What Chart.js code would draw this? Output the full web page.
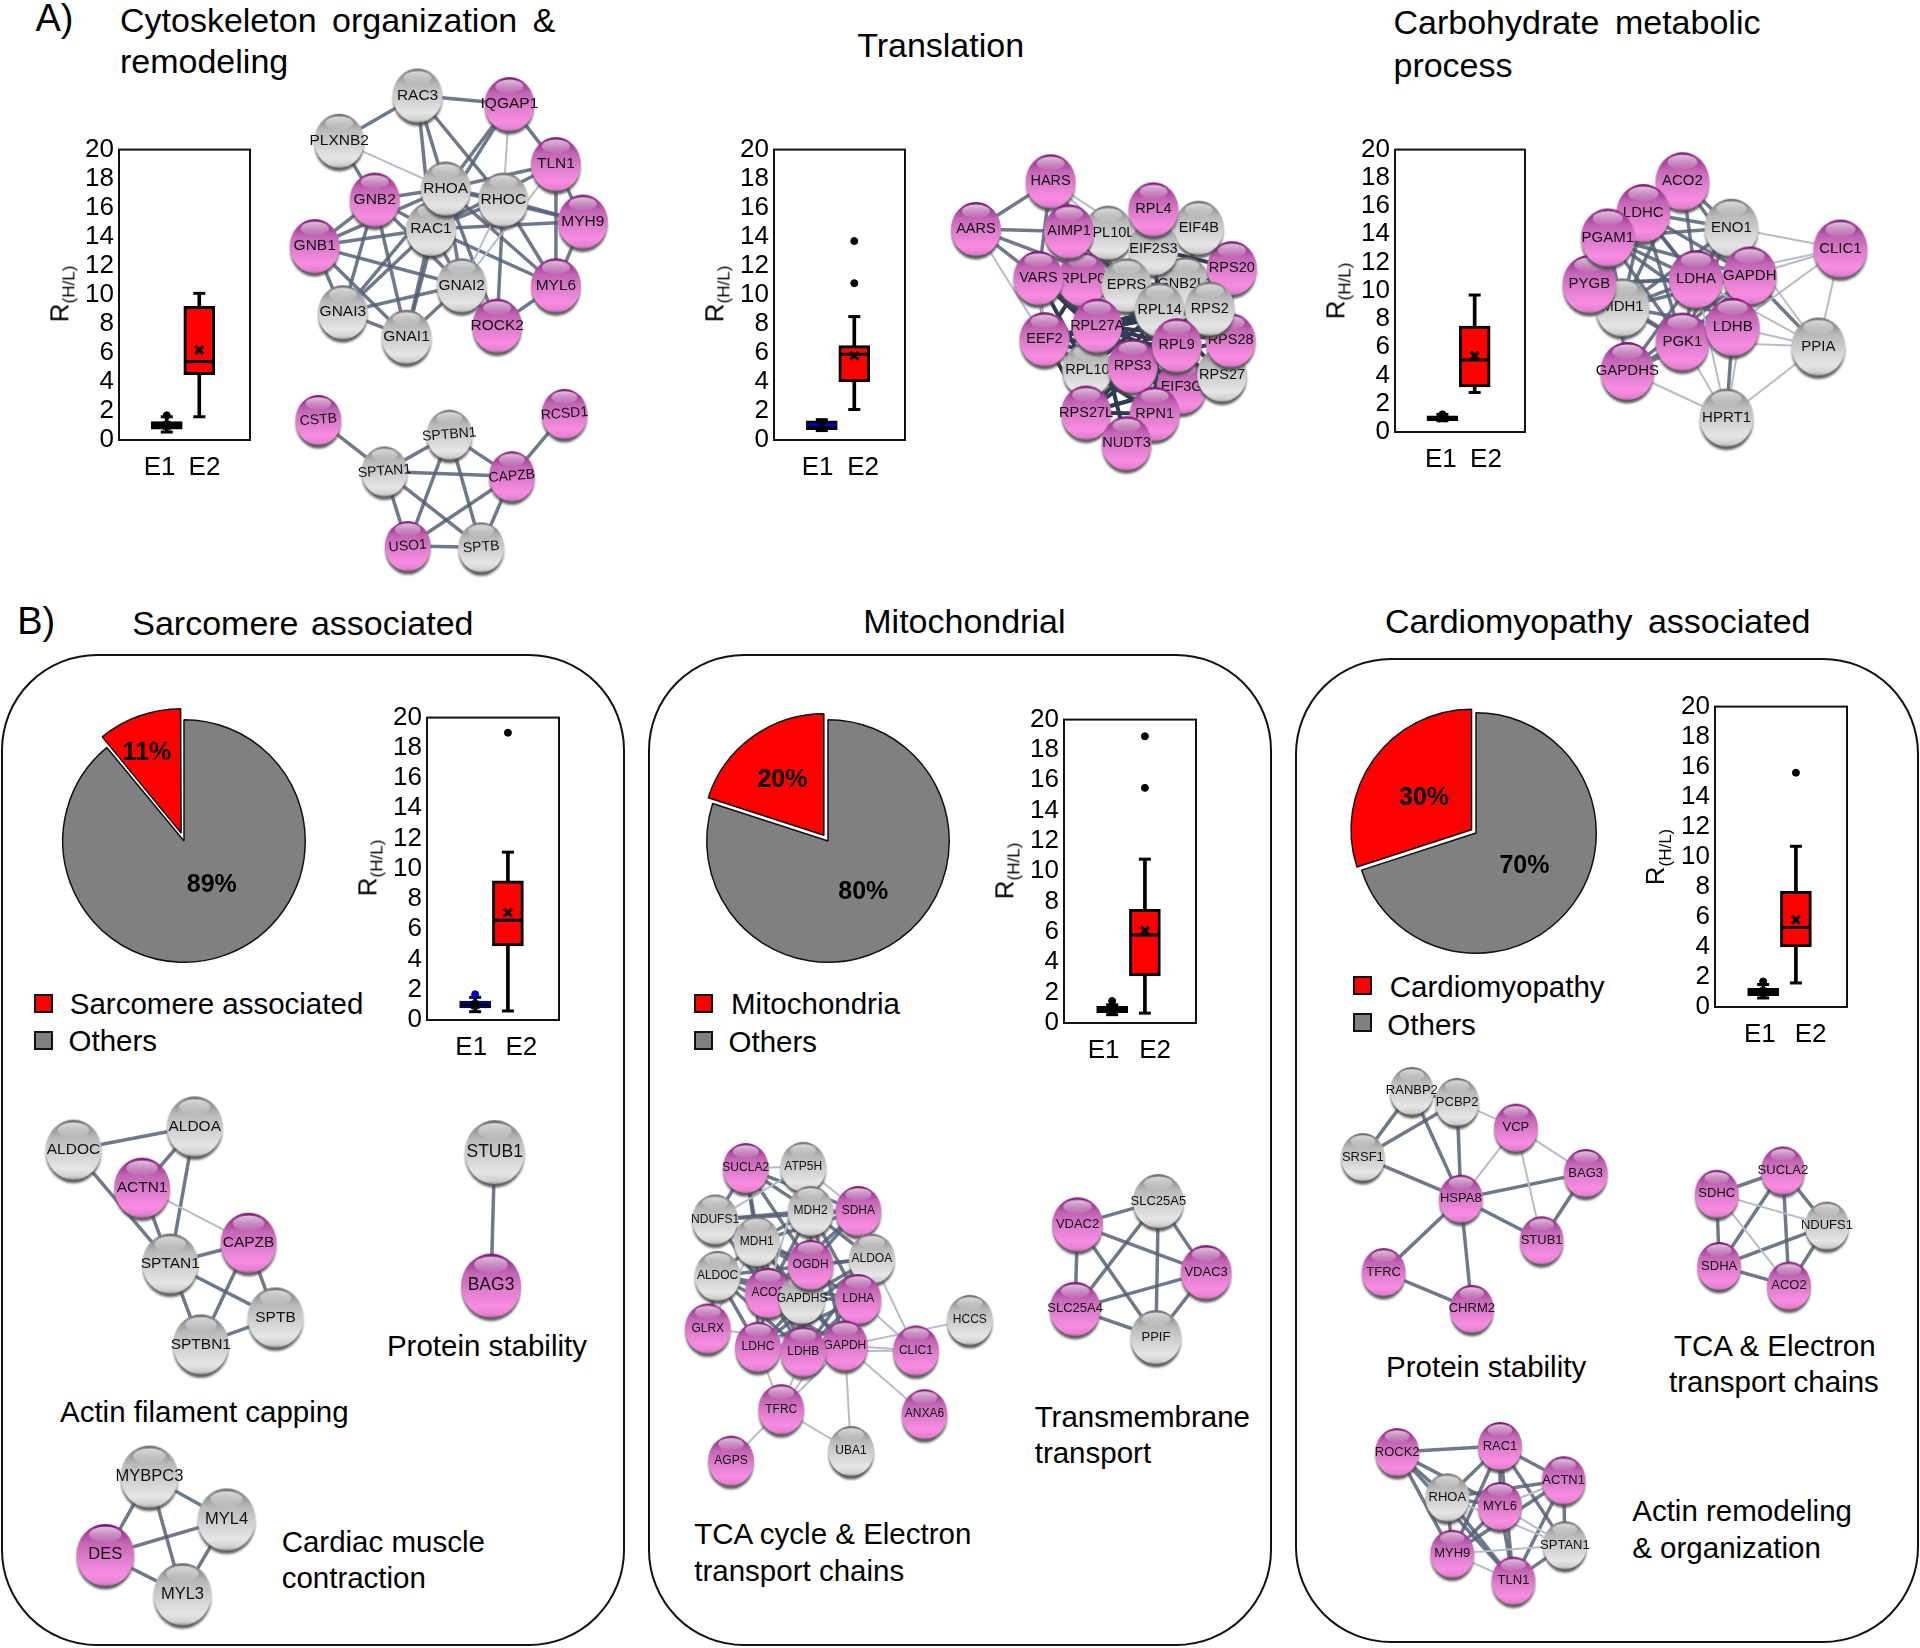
<!DOCTYPE html>
<html>
<head>
<meta charset="utf-8">
<script src="https://cdn.jsdelivr.net/npm/chart.js@4/dist/chart.umd.min.js"></script>
<style>
html, body { margin: 0; background: #fff; }
#page { position: relative; width: 1920px; height: 1648px; overflow: hidden; font-family: "Liberation Sans", Arial, sans-serif; color: #000; }
#page canvas { position: absolute; }
.txt { position: absolute; white-space: pre; line-height: 1; transform: translateY(-50%); }
.panel { position: absolute; border: 2.5px solid #111; box-sizing: border-box; background: #fff; }
.sq { position: absolute; box-sizing: border-box; border: 2.5px solid #111; }
.rlabel { position: absolute; white-space: nowrap; font-size: 26px; line-height: 1; transform: translate(-50%, -50%) rotate(-90deg); }
.rlabel sub { font-size: 17px; }
</style>
</head>
<body>
<div id="page"></div>
<script>
// all positions below are in the 1568 wide picture, S converts to page pixels
const S = 1920 / 1568;
const page = document.getElementById('page');

// ---------- box plots: [low, q1, median, q3, high, mean] for E1 and E2 ----------
const boxCategories = ['E1', 'E2'];
const boxX = [0, 1];
const cytoStats = [[0.55, 0.75, 1, 1.27, 1.6, 1], [1.6, 4.5, 5.4, 9.2, 10.1, 6.2]];
const cytoOutliers = [[1.7], []];
const translationStats = [[0.65, 0.72, 1.05, 1.32, 1.4, 1], [2.1, 4, 5.9, 6.5, 8.5, 5.8]];
const translationOutliers = [[], [10.8, 13.7]];
const carbStats = [[0.8, 0.8, 1, 1.15, 1.25, 1], [2.8, 3.2, 5.1, 7.5, 9.7, 5.4]];
const carbOutliers = [[1.25], []];
const sarcStats = [[0.55, 0.8, 1, 1.25, 1.5, 1], [0.6, 4.9, 6.6, 9.2, 11.1, 7.1]];
const sarcOutliers = [[1.7], [19]];
const mitoStats = [[0.55, 0.68, 0.9, 1.1, 1.2, 0.9], [0.65, 3.1, 5.8, 7.5, 10.8, 6.1]];
const mitoOutliers = [[1.45], [15.5, 18.9]];
const cardioStats = [[0.6, 0.75, 1, 1.25, 1.5, 1], [1.6, 4, 5.3, 7.7, 10.7, 5.8]];
const cardioOutliers = [[1.7], [15.6]];

// ---------- pies ----------
const pieValues1 = [89, 11];
const pieValues2 = [80, 20];
const pieValues3 = [70, 30];

// ---------- networks: [name, x, y, pink] listed bottom to top ----------
const cytoNodes = [
  ['PLXNB2',277,115,0],['RAC3',341,78,0],['IQGAP1',416,85,1],['TLN1',454,134,1],['MYH9',476,181,1],
  ['GNB2',306,163,1],['RAC1',352,187,0],['RHOC',411,163,0],['RHOA',364,154,0],['GNB1',257,201,1],
  ['GNAI2',377,233,0],['GNAI3',280,255,0],['GNAI1',332,275,0],['MYL6',454,233,1],['ROCK2',406,266,1]
];
const cytoLinks = ['RAC3-IQGAP1','RAC3-PLXNB2','RAC3-RHOA','RAC3-RAC1','RAC3-RHOC','IQGAP1-RHOA','IQGAP1-RAC1','IQGAP1-TLN1','PLXNB2-GNB2',
  'TLN1-RHOA','TLN1-RAC1','TLN1-MYH9','TLN1-MYL6','MYH9-RHOA','MYH9-RAC1','MYH9-MYL6','MYH9-RHOC','MYL6-RHOA','MYL6-RAC1','MYL6-ROCK2','MYL6-RHOC',
  'ROCK2-RHOA','ROCK2-RHOC','GNB2-RHOA','GNB2-RAC1','GNB2-GNB1','GNB2-GNAI1','GNB2-GNAI2','GNB2-GNAI3','GNB1-RHOA','GNB1-RAC1','GNB1-GNAI1','GNB1-GNAI2','GNB1-GNAI3',
  'GNAI3-GNAI1','GNAI3-GNAI2','GNAI3-RAC1','GNAI3-RHOA','GNAI1-GNAI2','GNAI1-RAC1','GNAI1-RHOA','GNAI2-RAC1','GNAI2-RHOA','RHOA-RHOC','RHOA-RAC1','RAC1-RHOC','ROCK2-GNAI2'];
const cytoWeak = ['PLXNB2-RHOA','IQGAP1-RHOC','GNAI2-RHOC','GNAI2-TLN1'];

const cyto2Nodes = [['CSTB',260,343,1],['RCSD1',461,338,1],['SPTBN1',367,355,0],['SPTAN1',314,385,0],['CAPZB',418,389,1],['USO1',333,446,1],['SPTB',393,447,0]];
const cyto2Links = ['CSTB-SPTAN1','RCSD1-CAPZB','SPTBN1-SPTAN1','SPTBN1-CAPZB','SPTAN1-CAPZB','SPTBN1-USO1','SPTBN1-SPTB','SPTAN1-USO1','SPTAN1-SPTB','CAPZB-USO1','CAPZB-SPTB','USO1-SPTB'];

const transNodes = [
  ['GNB2L1',968,232,0],['RPS20',1006,219,1],['EIF4B',979,186,0],['RPL10L',905,190,0],['RPLP0',884,228,1],['EIF2S3',942,203,0],['EPRS',920,233,0],['RPL4',942,171,1],
  ['HARS',858,148,1],['AARS',797,187,1],['AIMP1',873,189,1],['VARS',848,227,1],['RPL10',888,302,0],['EEF2',853,277,1],['EIF3G',965,316,1],['RPS27',998,306,0],['RPS28',1005,278,1],
  ['RPS27L',887,337,1],['RPL14',947,253,0],['RPS2',988,252,0],['RPL27A',896,266,1],['RPS3',925,299,1],['RPL9',961,282,1],['RPN1',943,338,1],['NUDT3',920,362,1]
];
const transLinks = ['HARS-AARS','AARS-AIMP1','AARS-VARS','AARS-EPRS','HARS-AIMP1','HARS-VARS','HARS-EPRS','AIMP1-EPRS','VARS-EPRS','VARS-EEF2'];
const transDense = ['RPL27A-RPL14','RPL27A-RPS2','RPL27A-RPL9','RPL27A-RPS3','RPL27A-RPS28','RPL27A-RPS27','RPL27A-EIF3G','RPL27A-RPN1','RPL27A-RPS27L','RPL27A-NUDT3',
  'EEF2-RPL14','EEF2-RPL9','EEF2-RPS3','EEF2-RPS2','EEF2-RPN1','EEF2-RPS27L','RPL10-RPL14','RPL10-RPS2','RPL10-RPL9','RPL10-EIF3G','RPL10-RPN1','RPL10-RPS27','RPL10-RPS28',
  'RPS27L-RPN1','RPS27L-RPS3','RPS27L-RPL9','RPS27L-EIF3G','RPS27L-RPS27','RPS27L-RPL14','RPN1-RPS3','RPN1-RPL9','RPN1-RPS2','RPN1-RPS28','RPN1-RPL14','NUDT3-RPL9',
  'EPRS-RPL14','EPRS-RPL9','EPRS-RPS2','EPRS-GNB2L1','RPL14-EIF2S3','RPS2-EIF2S3','RPS20-EIF2S3','RPS20-GNB2L1','RPS20-RPL14','RPS28-RPS20','EIF4B-EIF2S3','EIF4B-GNB2L1',
  'RPLP0-RPL14','RPLP0-RPL9','RPLP0-RPS3','RPLP0-EEF2','RPLP0-RPL10','VARS-RPL27A','VARS-RPL10','VARS-RPS3','VARS-RPL14','AIMP1-RPL14','RPL14-RPS3','RPL14-RPS27','RPS2-RPS3'];
const transWeak = ['AARS-EEF2','HARS-RPL10L','HARS-EIF2S3','VARS-EEF2'];

const carbNodes = [
  ['MDH1',1325,251,0],['ACO2',1374,148,1],['LDHC',1342,174,1],['ENO1',1414,186,0],['PYGB',1298,232,1],['PGAM1',1313,194,1],['GAPDH',1429,225,1],['LDHA',1385,228,1],
  ['PGK1',1374,279,1],['LDHB',1415,267,1],['GAPDHS',1329,303,1],['PPIA',1485,283,0],['CLIC1',1503,203,1],['HPRT1',1410,341,0]
];
const carbLinks = ['LDHC-ENO1','LDHC-LDHA','LDHC-LDHB','LDHC-PGK1','LDHC-GAPDH','LDHC-MDH1','LDHC-PGAM1','ACO2-ENO1','ACO2-LDHA','ACO2-GAPDH','ACO2-MDH1','PGAM1-ENO1','PGAM1-LDHA','PGAM1-LDHB','PGAM1-PGK1','PGAM1-GAPDH','PGAM1-GAPDHS','PGAM1-MDH1',
  'PYGB-LDHA','PYGB-GAPDH','PYGB-PGK1','ENO1-LDHA','ENO1-GAPDH','ENO1-LDHB','ENO1-PGK1','ENO1-MDH1','ENO1-GAPDHS','LDHA-GAPDH','LDHA-MDH1','LDHA-LDHB','LDHA-PGK1','GAPDH-LDHB','GAPDH-PGK1','GAPDH-MDH1','GAPDH-GAPDHS','MDH1-LDHB','MDH1-PGK1','LDHB-PGK1','LDHB-GAPDHS','PGK1-GAPDHS','GAPDH-PPIA','LDHB-HPRT1'];
const carbWeak = ['ENO1-CLIC1','GAPDH-CLIC1','LDHA-CLIC1','LDHB-CLIC1','PPIA-CLIC1','LDHB-PPIA','PGK1-PPIA','ENO1-PPIA','HPRT1-PPIA','HPRT1-PGK1','HPRT1-GAPDHS','HPRT1-GAPDH','HPRT1-LDHA','MDH1-GAPDHS','LDHA-PPIA'];

const actinNodes = [['ALDOC',60,939,0],['ALDOA',159,920,0],['SPTB',225,1076,0],['SPTBN1',164,1098,0],['SPTAN1',139,1032,0],['ACTN1',116,970,1],['CAPZB',203,1015,1]];
const actinLinks = ['ALDOC-ALDOA','ALDOA-ACTN1','ALDOA-SPTAN1','ALDOC-SPTAN1','ACTN1-SPTAN1','SPTAN1-CAPZB','SPTAN1-SPTB','SPTAN1-SPTBN1','CAPZB-SPTB','CAPZB-SPTBN1','SPTB-SPTBN1'];
const actinWeak = ['ACTN1-CAPZB'];

const stabilityNodes = [['STUB1',404,941,0],['BAG3',401,1050,1]];
const stabilityLinks = ['STUB1-BAG3'];

const muscleNodes = [['MYBPC3',122,1206,0],['MYL4',185,1241,0],['DES',86,1270,1],['MYL3',149,1302,0]];
const muscleLinks = ['MYBPC3-MYL4','MYBPC3-DES','MYBPC3-MYL3','DES-MYL4','DES-MYL3','MYL4-MYL3'];

const tcaNodes = [
  ['ATP5H',656,953,0],['SUCLA2',609,954,1],['NDUFS1',584,996,0],['MDH2',662,989,0],['SDHA',701,989,1],['MDH1',618,1014,0],['ALDOA',712,1028,0],['ALDOC',586,1042,0],
  ['ACO2',627,1056,1],['GAPDHS',655,1061,0],['OGDH',662,1033,1],['LDHA',701,1061,1],['GLRX',578,1085,1],['LDHC',619,1100,1],['GAPDH',690,1099,1],['LDHB',656,1104,1],
  ['CLIC1',748,1103,1],['HCCS',792,1078,0],['TFRC',638,1151,1],['ANXA6',755,1155,1],['UBA1',695,1185,0],['AGPS',597,1193,1]
];
const tcaLinks = ['SUCLA2-NDUFS1','SUCLA2-MDH2','SUCLA2-MDH1','SUCLA2-OGDH','SUCLA2-SDHA','SUCLA2-ACO2','NDUFS1-MDH2','NDUFS1-MDH1','NDUFS1-SDHA','NDUFS1-OGDH','NDUFS1-ACO2','MDH2-SDHA','MDH2-MDH1','MDH2-OGDH','MDH2-ACO2','MDH2-ALDOA','MDH2-LDHA','MDH2-GAPDH','MDH2-LDHB',
  'SDHA-OGDH','SDHA-ACO2','SDHA-MDH1','MDH1-OGDH','MDH1-ACO2','MDH1-ALDOC','MDH1-LDHA','MDH1-GAPDH','MDH1-LDHB','MDH1-LDHC','MDH1-GAPDHS','OGDH-ALDOA','OGDH-ACO2','ALDOA-ALDOC','ALDOA-GAPDHS','ALDOA-LDHA','ALDOA-LDHB','ALDOA-GAPDH','ALDOA-LDHC',
  'ALDOC-GAPDHS','ALDOC-LDHA','ALDOC-LDHB','ALDOC-LDHC','ALDOC-GAPDH','ACO2-LDHC','ACO2-LDHB','GAPDHS-LDHA','GAPDHS-LDHC','GAPDHS-LDHB','GAPDHS-GAPDH','LDHA-LDHC','LDHA-LDHB','LDHA-GAPDH','LDHC-LDHB','LDHC-GAPDH','LDHB-GAPDH','GLRX-ALDOC'];
const tcaWeak = ['ATP5H-SUCLA2','ATP5H-NDUFS1','ATP5H-MDH2','ATP5H-SDHA','ATP5H-OGDH','ATP5H-ACO2','GLRX-GAPDH','GLRX-MDH1','LDHA-CLIC1','GAPDH-CLIC1','GAPDH-HCCS','LDHB-CLIC1','GAPDH-ANXA6','GAPDH-UBA1','TFRC-UBA1','TFRC-AGPS','TFRC-LDHC','TFRC-LDHB','TFRC-GAPDH','TFRC-LDHA','ALDOA-CLIC1'];

const membraneNodes = [['VDAC2',880,1000,1],['SLC25A5',946,981,0],['VDAC3',985,1039,1],['SLC25A4',878,1069,1],['PPIF',944,1092,0]];
const membraneLinks = ['VDAC2-SLC25A5','VDAC2-VDAC3','VDAC2-SLC25A4','VDAC2-PPIF','SLC25A5-VDAC3','SLC25A5-SLC25A4','SLC25A5-PPIF','VDAC3-SLC25A4','VDAC3-PPIF','SLC25A4-PPIF'];

const foldNodes = [['RANBP2',1153,891,0],['PCBP2',1190,900,0],['VCP',1238,921,1],['SRSF1',1113,945,0],['BAG3',1295,958,1],['HSPA8',1193,979,1],['STUB1',1259,1013,1],['TFRC',1130,1039,1],['CHRM2',1202,1069,1]];
const foldLinks = ['RANBP2-SRSF1','PCBP2-SRSF1','RANBP2-HSPA8','PCBP2-HSPA8','SRSF1-HSPA8','HSPA8-BAG3','HSPA8-STUB1','BAG3-STUB1','HSPA8-TFRC','HSPA8-CHRM2','TFRC-CHRM2','RANBP2-PCBP2'];
const foldWeak = ['PCBP2-VCP','VCP-HSPA8','VCP-STUB1','VCP-BAG3'];

const tca2Nodes = [['NDUFS1',1492,1001,0],['SUCLA2',1456,956,1],['SDHC',1402,975,1],['SDHA',1404,1034,1],['ACO2',1461,1050,1]];
const tca2Links = ['SUCLA2-SDHC','SUCLA2-NDUFS1','SUCLA2-SDHA','SUCLA2-ACO2','SDHC-SDHA','SDHA-NDUFS1','SDHA-ACO2','NDUFS1-ACO2'];
const tca2Weak = ['SDHC-NDUFS1','SDHC-ACO2'];

const remodelNodes = [['SPTAN1',1278,1262,0],['ROCK2',1141,1186,1],['RAC1',1225,1181,1],['ACTN1',1277,1209,1],['RHOA',1182,1223,0],['MYH9',1186,1269,1],['TLN1',1236,1291,1],['MYL6',1225,1230,1]];
const remodelLinks = ['ROCK2-RAC1','ROCK2-RHOA','ROCK2-MYL6','ROCK2-MYH9','ROCK2-TLN1','RAC1-ACTN1','RAC1-RHOA','RAC1-MYL6','RAC1-SPTAN1','RAC1-MYH9','RAC1-TLN1','ACTN1-RHOA','ACTN1-SPTAN1','ACTN1-TLN1','ACTN1-MYH9','RHOA-MYL6','RHOA-MYH9','RHOA-TLN1','MYL6-MYH9','MYL6-TLN1','SPTAN1-TLN1'];
const remodelWeak = ['MYL6-ACTN1','MYL6-SPTAN1','MYH9-SPTAN1','RHOA-SPTAN1','MYH9-TLN1'];

// ---------- plain text ----------
function addText(str, x, y, size, extra) {
  const d = document.createElement('div');
  d.className = 'txt';
  d.textContent = str;
  d.style.left = x * S + 'px';
  d.style.top = y * S + 'px';
  d.style.fontSize = size + 'px';
  if (extra) Object.assign(d.style, extra);
  page.appendChild(d);
}

const titleGap = { wordSpacing: '6px' };
addText('A)', 29, 15, 38);
addText('B)', 14, 507, 38);
addText('Cytoskeleton organization &', 98, 16, 34, titleGap);
addText('remodeling', 98, 50, 34);
addText('Translation', 700, 37, 34);
addText('Carbohydrate metabolic', 1138, 18, 34, titleGap);
addText('process', 1138, 53, 34);
addText('Sarcomere associated', 108, 509, 34, { wordSpacing: '3px' });
addText('Mitochondrial', 705, 507, 34);
addText('Cardiomyopathy associated', 1131, 507, 34, titleGap);

// rounded boxes of part B
[[1, 654, 625, 1646], [648, 654, 1272, 1646], [1295, 658, 1919, 1643]].forEach(p => {
  const d = document.createElement('div');
  d.className = 'panel';
  d.style.left = p[0] + 'px';
  d.style.top = p[1] + 'px';
  d.style.width = p[2] - p[0] + 'px';
  d.style.height = p[3] - p[1] + 'px';
  d.style.borderRadius = '96px';
  page.appendChild(d);
});

[['Sarcomere associated', 57, 820], ['Others', 56, 850], ['Mitochondria', 597, 820], ['Others', 595, 851], ['Cardiomyopathy', 1135, 806], ['Others', 1133, 837],
 ['Actin filament capping', 49, 1153], ['Protein stability', 316, 1099], ['Cardiac muscle', 230, 1259], ['contraction', 230, 1289],
 ['TCA cycle & Electron', 567, 1253], ['transport chains', 567, 1283], ['Transmembrane', 845, 1157], ['transport', 845, 1187],
 ['Protein stability', 1132, 1116], ['TCA & Electron', 1367, 1099], ['transport chains', 1363, 1129], ['Actin remodeling', 1333, 1234], ['& organization', 1333, 1264]
].forEach(t => addText(t[0], t[1], t[2], 29.5));

// legend squares
[[28, 812, '#ff0000'], [28, 842, '#808080'], [567, 812, '#ff0000'], [567, 842, '#808080'], [1105, 797, '#ff0000'], [1105, 827, '#808080']].forEach(q => {
  const d = document.createElement('div');
  d.className = 'sq';
  d.style.left = q[0] * S + 'px';
  d.style.top = q[1] * S + 'px';
  d.style.width = '19px';
  d.style.height = '19px';
  d.style.background = q[2];
  page.appendChild(d);
});

// ---------- pies ----------
function addPie(values, cx, cy, r, offset) {
  const size = Math.round(2 * r * S + 1.5 + offset);
  const c = document.createElement('canvas');
  c.width = size;
  c.height = size;
  c.style.left = cx * S - size / 2 + 'px';
  c.style.top = cy * S - size / 2 + 'px';
  page.appendChild(c);
  new Chart(c, {
    type: 'pie',
    data: {
      labels: ['Others', 'Selected'],
      datasets: [{ data: values, backgroundColor: ['#808080', '#ff0000'], borderColor: '#111', borderWidth: 1.5, offset: [0, offset] }]
    },
    options: { responsive: false, animation: false, events: [], plugins: { legend: { display: false }, tooltip: { enabled: false } } }
  });
}
addPie(pieValues1, 150.4, 687, 99, 34);
addPie(pieValues2, 676.5, 687, 99, 28);
addPie(pieValues3, 1205, 680, 98, 22);

const pieText = { fontWeight: 'bold', transform: 'translate(-50%,-50%)' };
addText(pieValues1[1] + '%', 120, 613, 25, pieText);
addText(pieValues1[0] + '%', 173, 721, 25, pieText);
addText(pieValues2[1] + '%', 639, 635, 25, pieText);
addText(pieValues2[0] + '%', 705, 727, 25, pieText);
addText(pieValues3[1] + '%', 1163, 650, 25, pieText);
addText(pieValues3[0] + '%', 1245, 706, 25, pieText);

// ---------- box plots ----------
const framePlugin = {
  id: 'frame',
  afterDraw(chart) {
    const a = chart.chartArea, ctx = chart.ctx;
    ctx.save();
    ctx.strokeStyle = '#111';
    ctx.lineWidth = 2;
    ctx.strokeRect(a.left, a.top, a.right - a.left, a.bottom - a.top);
    ctx.restore();
  }
};

function addBox(stats, outliers, rect, labelAt, fillE1, medianE1) {
  const ml = 70, mr = 8, mt = 20, mb = 50;
  const x0 = rect[0] * S, x1 = rect[1] * S, y0 = rect[2] * S, y1 = rect[3] * S;
  const c = document.createElement('canvas');
  c.width = Math.round(x1 - x0 + ml + mr);
  c.height = Math.round(y1 - y0 + mt + mb);
  c.style.left = x0 - ml + 'px';
  c.style.top = y0 - mt + 'px';
  page.appendChild(c);

  const points = col => boxCategories.map((n, i) => ({ x: boxX[i], y: stats[i][col] }));
  const mark = (col, style, radius, width, order, color) => ({
    type: 'scatter', data: points(col), pointStyle: style, pointRadius: radius,
    pointBorderWidth: width, pointBorderColor: color || '#000', pointBackgroundColor: '#000', order: order, clip: false
  });

  const datasets = [
    { type: 'bar', data: boxCategories.map((n, i) => ({ x: boxX[i], y: [stats[i][0], stats[i][4]] })), backgroundColor: '#000', barThickness: 3, grouped: false, order: 6 },
    { type: 'bar', data: boxCategories.map((n, i) => ({ x: boxX[i], y: [stats[i][1], stats[i][3]] })), backgroundColor: [fillE1, '#ff0000'], borderColor: '#000', borderWidth: [fillE1 === '#000' ? 3 : 1, 3], borderSkipped: false, barThickness: 31, grouped: false, order: 5 },
    mark(0, 'line', 6, 3, 4),
    mark(4, 'line', 6, 3, 4),
    mark(2, 'line', 15, 3, 3, [medianE1, '#000']),
    mark(5, 'crossRot', 5.5, 3, 2)
  ];
  outliers.forEach((list, i) => list.forEach(v => {
    const dot = i === 0 ? fillE1 : '#000';
    datasets.push({ type: 'scatter', data: [{ x: boxX[i], y: v }], pointStyle: 'circle', pointRadius: 3.5, pointBackgroundColor: dot, pointBorderColor: dot, order: 1 });
  }));

  new Chart(c, {
    data: { datasets: datasets },
    options: {
      responsive: false, animation: false, events: [],
      layout: { autoPadding: false, padding: { top: mt, right: mr, left: 0, bottom: 0 } },
      plugins: { legend: { display: false }, tooltip: { enabled: false } },
      scales: {
        x: {
          type: 'linear', min: -1.47, max: 2.56, offset: false,
          grid: { display: false, drawTicks: false, offset: false }, border: { display: false },
          afterBuildTicks(scale) { scale.ticks = labelAt.map(v => ({ value: v })); },
          afterFit(scale) { scale.height = mb; },
          ticks: { autoSkip: false, maxRotation: 0, padding: 12, color: '#000', font: { size: 26, family: 'Liberation Sans' }, callback: (v, i) => boxCategories[i] }
        },
        y: {
          min: 0, max: 20,
          grid: { display: false, drawTicks: false }, border: { display: false },
          afterFit(scale) { scale.width = ml; },
          ticks: { stepSize: 2, autoSkip: false, padding: 5, color: '#000', font: { size: 26, family: 'Liberation Sans' } }
        }
      }
    },
    plugins: [framePlugin]
  });

  const r = document.createElement('div');
  r.className = 'rlabel';
  r.innerHTML = 'R<sub>(H/L)</sub>';
  r.style.left = x0 - 57 + 'px';
  r.style.top = (y0 + y1) / 2 + 'px';
  page.appendChild(r);
}

addBox(cytoStats, cytoOutliers, [97, 204, 121.5, 359], [-0.22, 1.16], '#000', '#000');
addBox(translationStats, translationOutliers, [632, 739, 121.5, 359], [-0.13, 1.27], '#000', '#0000cc');
addBox(carbStats, carbOutliers, [1139, 1245, 121.5, 353], [-0.05, 1.35], '#000', '#000');
addBox(sarcStats, sarcOutliers, [349, 457, 585.5, 833], [-0.12, 1.41], '#0000cc', '#000');
addBox(mitoStats, mitoOutliers, [869, 977, 587, 835], [-0.26, 1.31], '#000', '#000');
addBox(cardioStats, cardioOutliers, [1400.5, 1508, 576.5, 822.5], [-0.1, 1.45], '#000', '#000');

// ---------- networks, one full page chart so all nodes sit on the same scales ----------
const ballCache = {};
function makeBall(rx, ry, pink) {
  const key = rx + '_' + ry + '_' + pink;
  if (ballCache[key]) return ballCache[key];
  const pad = 7;
  const c = document.createElement('canvas');
  c.width = 2 * rx + 2 * pad;
  c.height = 2 * ry + 2 * pad;
  const g = c.getContext('2d');
  const cx = c.width / 2, cy = c.height / 2;
  // soft shadow under the ball
  g.save();
  g.filter = 'blur(1.2px)';
  g.fillStyle = 'rgba(75,75,75,0.9)';
  g.beginPath();
  g.ellipse(cx, cy + 4, rx - 0.5, ry - 0.5, 0, 0, 2 * Math.PI);
  g.fill();
  g.restore();
  // body
  const b = g.createLinearGradient(0, cy - ry, 0, cy + ry);
  const stops = pink
    ? [[0, '#7a1070'], [0.07, '#952c8a'], [0.3, '#c265b4'], [0.55, '#de7ecd'], [0.82, '#f98ce2'], [0.95, '#e681d2'], [1, '#b864a8']]
    : [[0, '#686868'], [0.07, '#858585'], [0.3, '#bababa'], [0.55, '#d0d0d0'], [0.82, '#e6e6e6'], [0.95, '#d0d0d0'], [1, '#9a9a9a']];
  stops.forEach(s => b.addColorStop(s[0], s[1]));
  g.fillStyle = b;
  g.beginPath();
  g.ellipse(cx, cy, rx, ry, 0, 0, 2 * Math.PI);
  g.fill();
  // highlight at the top
  const h = g.createLinearGradient(0, cy - ry * 0.9, 0, cy - ry * 0.42);
  h.addColorStop(0, 'rgba(255,255,255,0.72)');
  h.addColorStop(1, 'rgba(255,255,255,0.08)');
  g.fillStyle = h;
  g.beginPath();
  g.ellipse(cx, cy - ry * 0.66, rx * 0.56, ry * 0.25, 0, 0, 2 * Math.PI);
  g.fill();
  ballCache[key] = c;
  return c;
}

const networks = [
  { nodes: cytoNodes, links: cytoLinks, weak: cytoWeak, r: 25, font: 15.5 },
  { nodes: cyto2Nodes, links: cyto2Links, weak: [], r: 23, font: 14, tilt: -0.08 },
  { nodes: transNodes, links: transLinks, dense: transDense, weak: transWeak, r: 25, font: 14.5 },
  { nodes: carbNodes, links: carbLinks, weak: carbWeak, r: 27, font: 15 },
  { nodes: actinNodes, links: actinLinks, weak: actinWeak, r: 28, font: 15.5 },
  { nodes: stabilityNodes, links: stabilityLinks, weak: [], r: 30, font: 17.5 },
  { nodes: muscleNodes, links: muscleLinks, weak: [], r: 29, font: 16.5 },
  { nodes: tcaNodes, links: tcaLinks, weak: tcaWeak, r: 23, font: 12 },
  { nodes: membraneNodes, links: membraneLinks, weak: [], r: 25.5, font: 13 },
  { nodes: foldNodes, links: foldLinks, weak: foldWeak, r: 22, font: 13 },
  { nodes: tca2Nodes, links: tca2Links, weak: tca2Weak, r: 22, font: 13 },
  { nodes: remodelNodes, links: remodelLinks, weak: remodelWeak, r: 22, font: 13 }
];

const netDatasets = [];
let seq = 0;
function linkDataset(net, pair, color, width) {
  const ends = pair.split('-').map(n => net.nodes.find(d => d[0] === n));
  return {
    type: 'scatter', showLine: true, pointRadius: 0, borderColor: color, borderWidth: width, order: 1, clip: false,
    data: ends.map(e => ({ x: e[1], y: e[2] }))
  };
}
networks.forEach(net => {
  net.weak.forEach(p => netDatasets.push(linkDataset(net, p, '#b7bcc9', 2)));
  net.links.forEach(p => netDatasets.push(linkDataset(net, p, 'rgba(86,97,120,0.85)', 3.5)));
  (net.dense || []).forEach(p => netDatasets.push(linkDataset(net, p, '#2f3b52', 4)));
  net.nodes.forEach(n => {
    seq += 1;
    netDatasets.push({
      type: 'scatter', label: n[0], order: -seq, clip: false, showLine: false,
      data: [{ x: n[1], y: n[2] }],
      pointStyle: makeBall(net.r, Math.round(net.r * 1.07), n[3]), pointRadius: net.r,
      nodeFont: net.font, nodeTilt: net.tilt || 0
    });
  });
});

// node names are drawn right after their own ball so that later balls can cover them
const nodeLabels = {
  id: 'nodeLabels',
  afterDatasetDraw(chart, args) {
    const ds = chart.data.datasets[args.index];
    if (!ds.nodeFont) return;
    const p = args.meta.data[0], ctx = chart.ctx;
    ctx.save();
    ctx.translate(p.x, p.y);
    ctx.rotate(ds.nodeTilt);
    ctx.font = ds.nodeFont + 'px "Liberation Sans"';
    ctx.fillStyle = '#111';
    ctx.textAlign = 'center';
    ctx.textBaseline = 'middle';
    ctx.fillText(ds.label, 0, 0);
    ctx.restore();
  }
};

const netCanvas = document.createElement('canvas');
netCanvas.width = 1920;
netCanvas.height = 1648;
netCanvas.style.left = '0';
netCanvas.style.top = '0';
netCanvas.style.pointerEvents = 'none';
page.appendChild(netCanvas);
new Chart(netCanvas, {
  data: { datasets: netDatasets },
  options: {
    responsive: false, animation: false, events: [],
    layout: { autoPadding: false },
    plugins: { legend: { display: false }, tooltip: { enabled: false } },
    scales: {
      x: { type: 'linear', min: 0, max: 1568, display: false },
      y: { type: 'linear', min: 0, max: 1346, reverse: true, display: false }
    }
  },
  plugins: [nodeLabels]
});
</script>
</body>
</html>
